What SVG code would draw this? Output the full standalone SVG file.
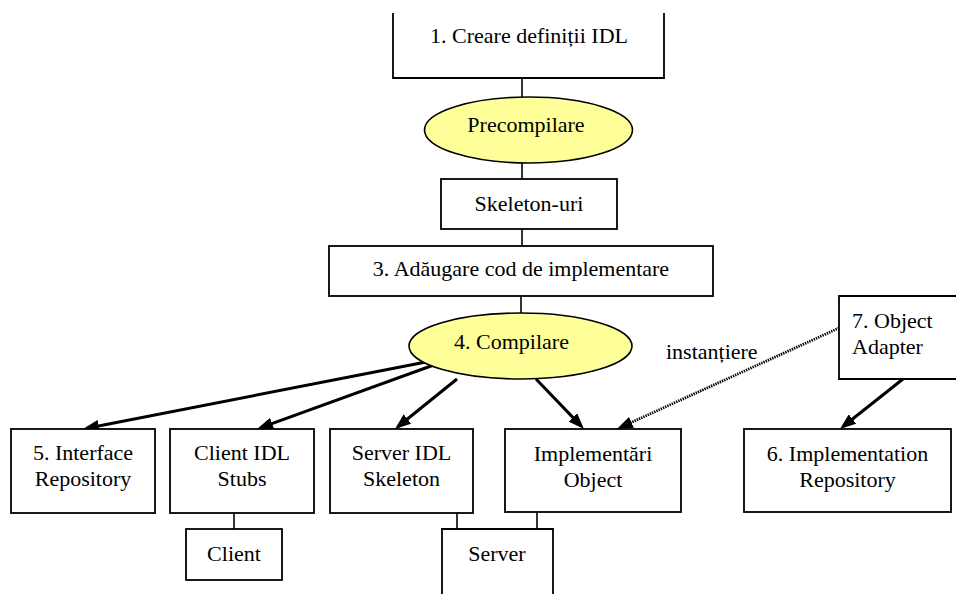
<svg xmlns="http://www.w3.org/2000/svg" width="956" height="594" viewBox="0 0 956 594">
  <defs>
    <marker id="arrow" viewBox="0 0 16 12" refX="12" refY="6" markerWidth="16" markerHeight="12" markerUnits="userSpaceOnUse" orient="auto">
      <path d="M0,0 L16,6 L0,12 z" fill="#000"/>
    </marker>
    <style>
      .box { fill: #fff; stroke: #000; stroke-width: 1.8; }
      .open { fill: none; stroke: #000; stroke-width: 1.8; }
      .oval { fill: #ffff99; stroke: #000; stroke-width: 1.6; }
      .c { text-anchor: middle; }
      .link { stroke: #000; stroke-width: 1.6; fill: none; }
      .arr { stroke: #000; stroke-width: 3; fill: none; marker-end: url(#arrow); }
      .dot { stroke: #000; stroke-width: 2.8; fill: none; stroke-dasharray: 1.4 1; marker-end: url(#arrow); }
    </style>
  </defs>
  <rect width="956" height="594" fill="#fff"/>

  <g font-family="Liberation Serif, Tinos, Times New Roman, DejaVu Serif, serif" font-size="22" fill="#000">
  <g id="connectors">
    <line class="link" x1="522" y1="78" x2="522" y2="97"/>
    <line class="link" x1="522" y1="163" x2="522" y2="179"/>
    <line class="link" x1="522" y1="229" x2="522" y2="246"/>
    <line class="link" x1="521" y1="296" x2="521" y2="313"/>
    <line class="link" x1="234" y1="513" x2="234" y2="529"/>
    <line class="link" x1="457" y1="513" x2="457" y2="529"/>
    <line class="link" x1="537" y1="512" x2="537" y2="529"/>
    <line class="arr" x1="426" y1="362" x2="86.9" y2="428.2"/>
    <line class="arr" x1="442" y1="362" x2="260.8" y2="427.6"/>
    <line class="arr" x1="457" y1="379" x2="398.1" y2="426.5"/>
    <line class="arr" x1="536" y1="379" x2="581.2" y2="426.1"/>
    <line class="arr" x1="903" y1="379" x2="843.1" y2="426.5"/>
    <line class="dot" x1="839" y1="328" x2="620.6" y2="427.3"/>
    <text x="666" y="359">instanțiere</text>
  </g>

  <g id="n1">
    <path class="open" d="M393,13 V78 H664 V13"/>
    <text class="c" x="529" y="43">1. Creare definiții IDL</text>
  </g>
  <g id="n-precompilare">
    <ellipse class="oval" cx="528.5" cy="130" rx="104" ry="33"/>
    <text class="c" x="526" y="132">Precompilare</text>
  </g>
  <g id="n-skeleton">
    <rect class="box" x="441" y="179" width="176" height="50"/>
    <text class="c" x="529" y="211">Skeleton-uri</text>
  </g>
  <g id="n3">
    <rect class="box" x="329" y="246" width="384" height="50"/>
    <text class="c" x="521" y="276">3. Adăugare cod de implementare</text>
  </g>
  <g id="n4">
    <ellipse class="oval" cx="520.5" cy="346" rx="111.5" ry="33"/>
    <text class="c" x="511.5" y="349">4. Compilare</text>
  </g>
  <g id="n7">
    <path class="box" d="M958,296 H839 V379 H958"/>
    <text x="852" y="328">7. Object</text>
    <text x="852" y="354">Adapter</text>
  </g>
  <g id="n5">
    <rect class="box" x="11" y="429" width="144" height="84"/>
    <text class="c" x="83" y="460">5. Interface</text>
    <text class="c" x="83" y="486">Repository</text>
  </g>
  <g id="n-client-stubs">
    <rect class="box" x="170" y="429" width="144" height="84"/>
    <text class="c" x="242" y="460">Client IDL</text>
    <text class="c" x="242" y="486">Stubs</text>
  </g>
  <g id="n-server-skeleton">
    <rect class="box" x="330" y="429" width="143" height="84"/>
    <text class="c" x="401.5" y="460">Server IDL</text>
    <text class="c" x="401.5" y="486">Skeleton</text>
  </g>
  <g id="n-impl-object">
    <rect class="box" x="505" y="429" width="176" height="83"/>
    <text class="c" x="593" y="461">Implementări</text>
    <text class="c" x="593" y="487">Object</text>
  </g>
  <g id="n6">
    <rect class="box" x="744" y="429" width="207" height="83"/>
    <text class="c" x="847.5" y="461">6. Implementation</text>
    <text class="c" x="847.5" y="487">Repository</text>
  </g>
  <g id="n-client">
    <rect class="box" x="186" y="529" width="96" height="51"/>
    <text class="c" x="234" y="561">Client</text>
  </g>
  <g id="n-server">
    <path class="box" d="M442,596 V529 H553 V596"/>
    <text class="c" x="497" y="561">Server</text>
  </g>
  </g>
</svg>
